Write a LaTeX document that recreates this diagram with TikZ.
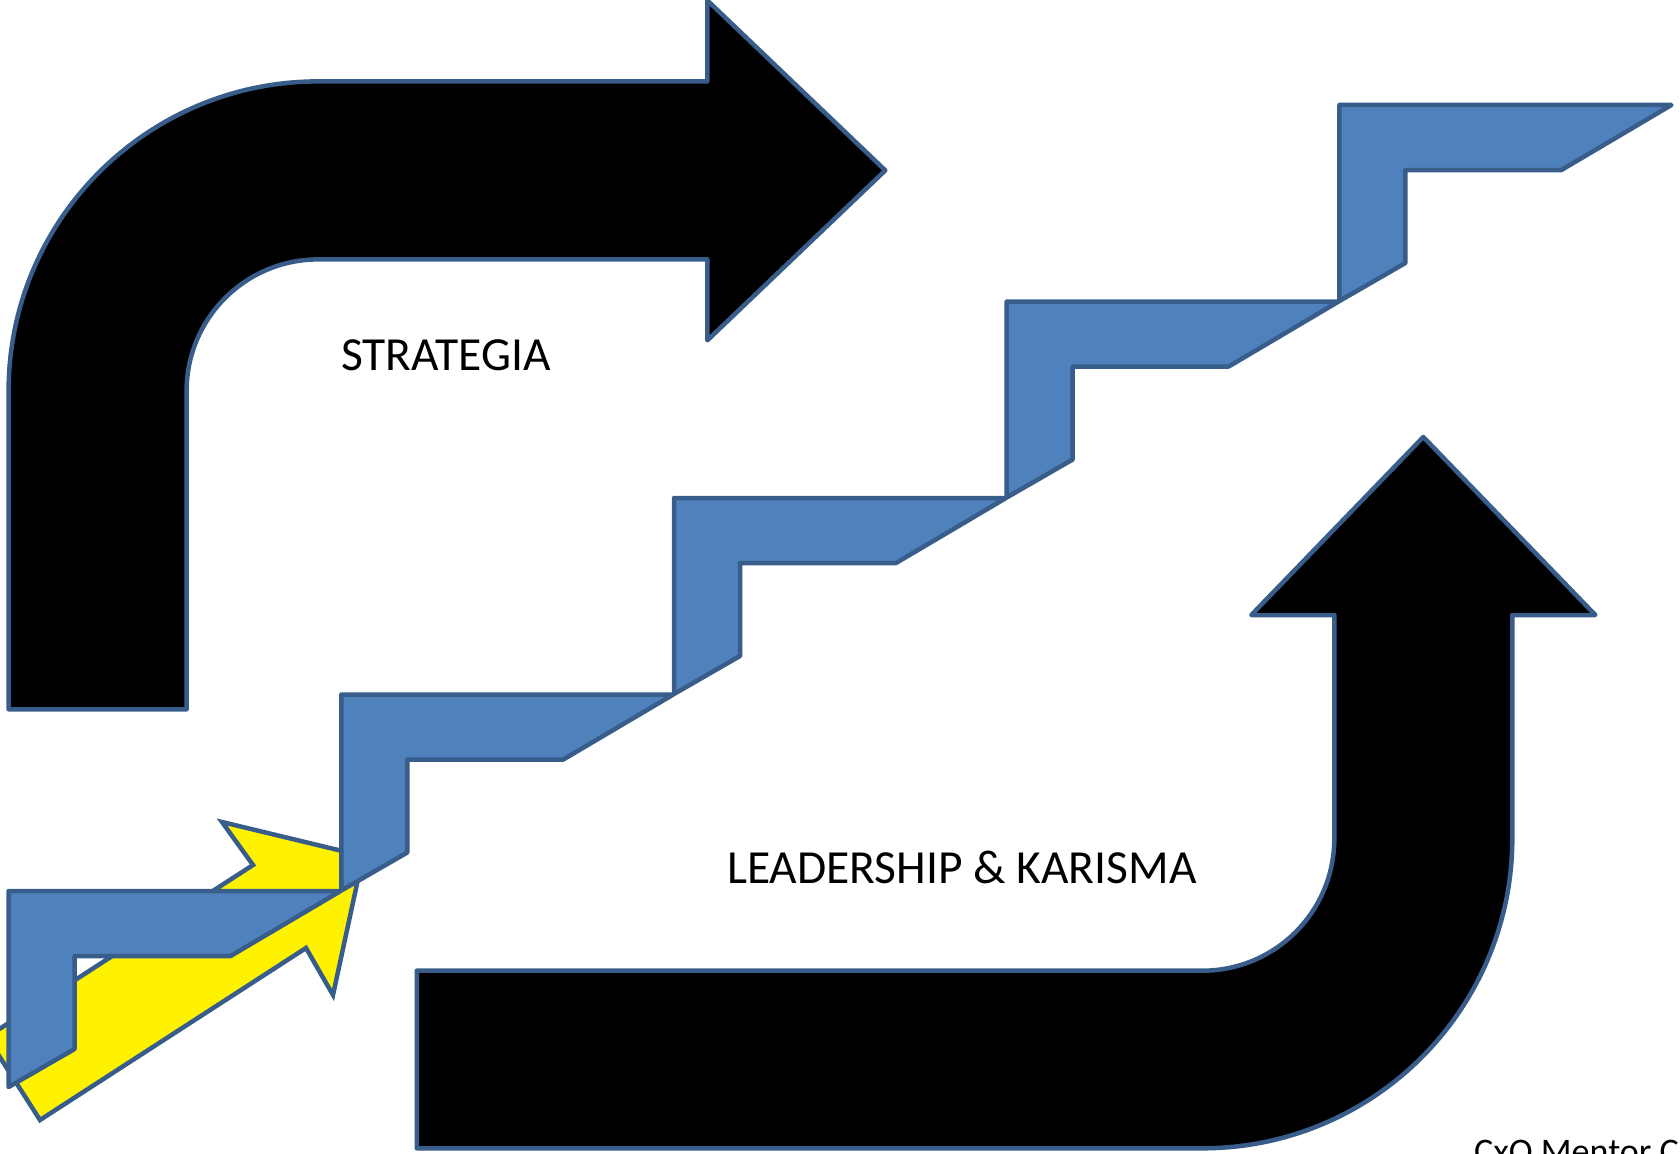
\documentclass[tikz,border=0pt]{standalone}
\usepackage{fontspec}
\setmainfont{Carlito}
\usepackage{tikz}

\definecolor{edgeblue}{HTML}{385D8A}
\definecolor{stairblue}{HTML}{4F81BD}

\begin{document}
\begin{tikzpicture}[x=1pt, y=-1pt]
			\tikzstyle{bigarrow} = [draw=edgeblue, fill=black, line width=4.5pt, line join=round];
			\tikzstyle{pointer} = [draw=edgeblue, fill=yellow, line width=4.5pt, line join=miter];
			\tikzstyle{stair} = [draw=edgeblue, fill=stairblue, line width=4.5pt, line join=round];
			\tikzstyle{caption} = [inner sep=0pt, anchor=base west, font=\fontsize{47.5pt}{57pt}\selectfont];
			\useasboundingbox (0,0) rectangle (1680,1153);
			\clip (0,0) rectangle (1680,1153);
			% bent arrow, top left
			\draw [bigarrow] (8.6,709.3) -- (8.6,391) arc[start angle=180, end angle=90, radius=309.6pt] -- (707.3,81.4) -- (707.3,0.4) -- (885.3,170.4) -- (707.3,340.4) -- (707.3,259.4) -- (318.2,259.4) arc[start angle=90, end angle=180, radius=131.6pt] -- (186.6,709.3) -- cycle;
			% bent up arrow, bottom right
			\draw [bigarrow] (416.8,970.7) -- (1202.3,970.7) arc[start angle=-90, end angle=0, radius=132pt] -- (1334.3,615) -- (1251.3,615) -- (1423.3,437) -- (1595.3,615) -- (1512.3,615) -- (1512.3,838.3) arc[start angle=0, end angle=-90, radius=310pt] -- (416.8,1148.3) -- cycle;
			% yellow arrow
			\draw [pointer] (40,1120) -- (306,948) -- (333,995) -- (363,856) -- (222,822) -- (253,865) -- (-13,1037) -- cycle;
			% stairs
			\foreach \i in {0,...,4}
				\draw [stair, shift={(332.7*\i,-196.5*\i)}] (8.6,891) -- ++(332,0) -- ++(-110,65) -- ++(-156,0) -- ++(0,93) -- ++(-66,38) -- cycle;
			\node (strategy) [caption] at (341,370.7) {STRATEGIA};
			\node (leadership) [caption] at (727,883) {LEADERSHIP \& KARISMA};
			\node (mentor) [caption, font=\fontsize{36pt}{43pt}\selectfont] at (1474,1163) {CxO Mentor C};
		\end{tikzpicture}
\end{document}
